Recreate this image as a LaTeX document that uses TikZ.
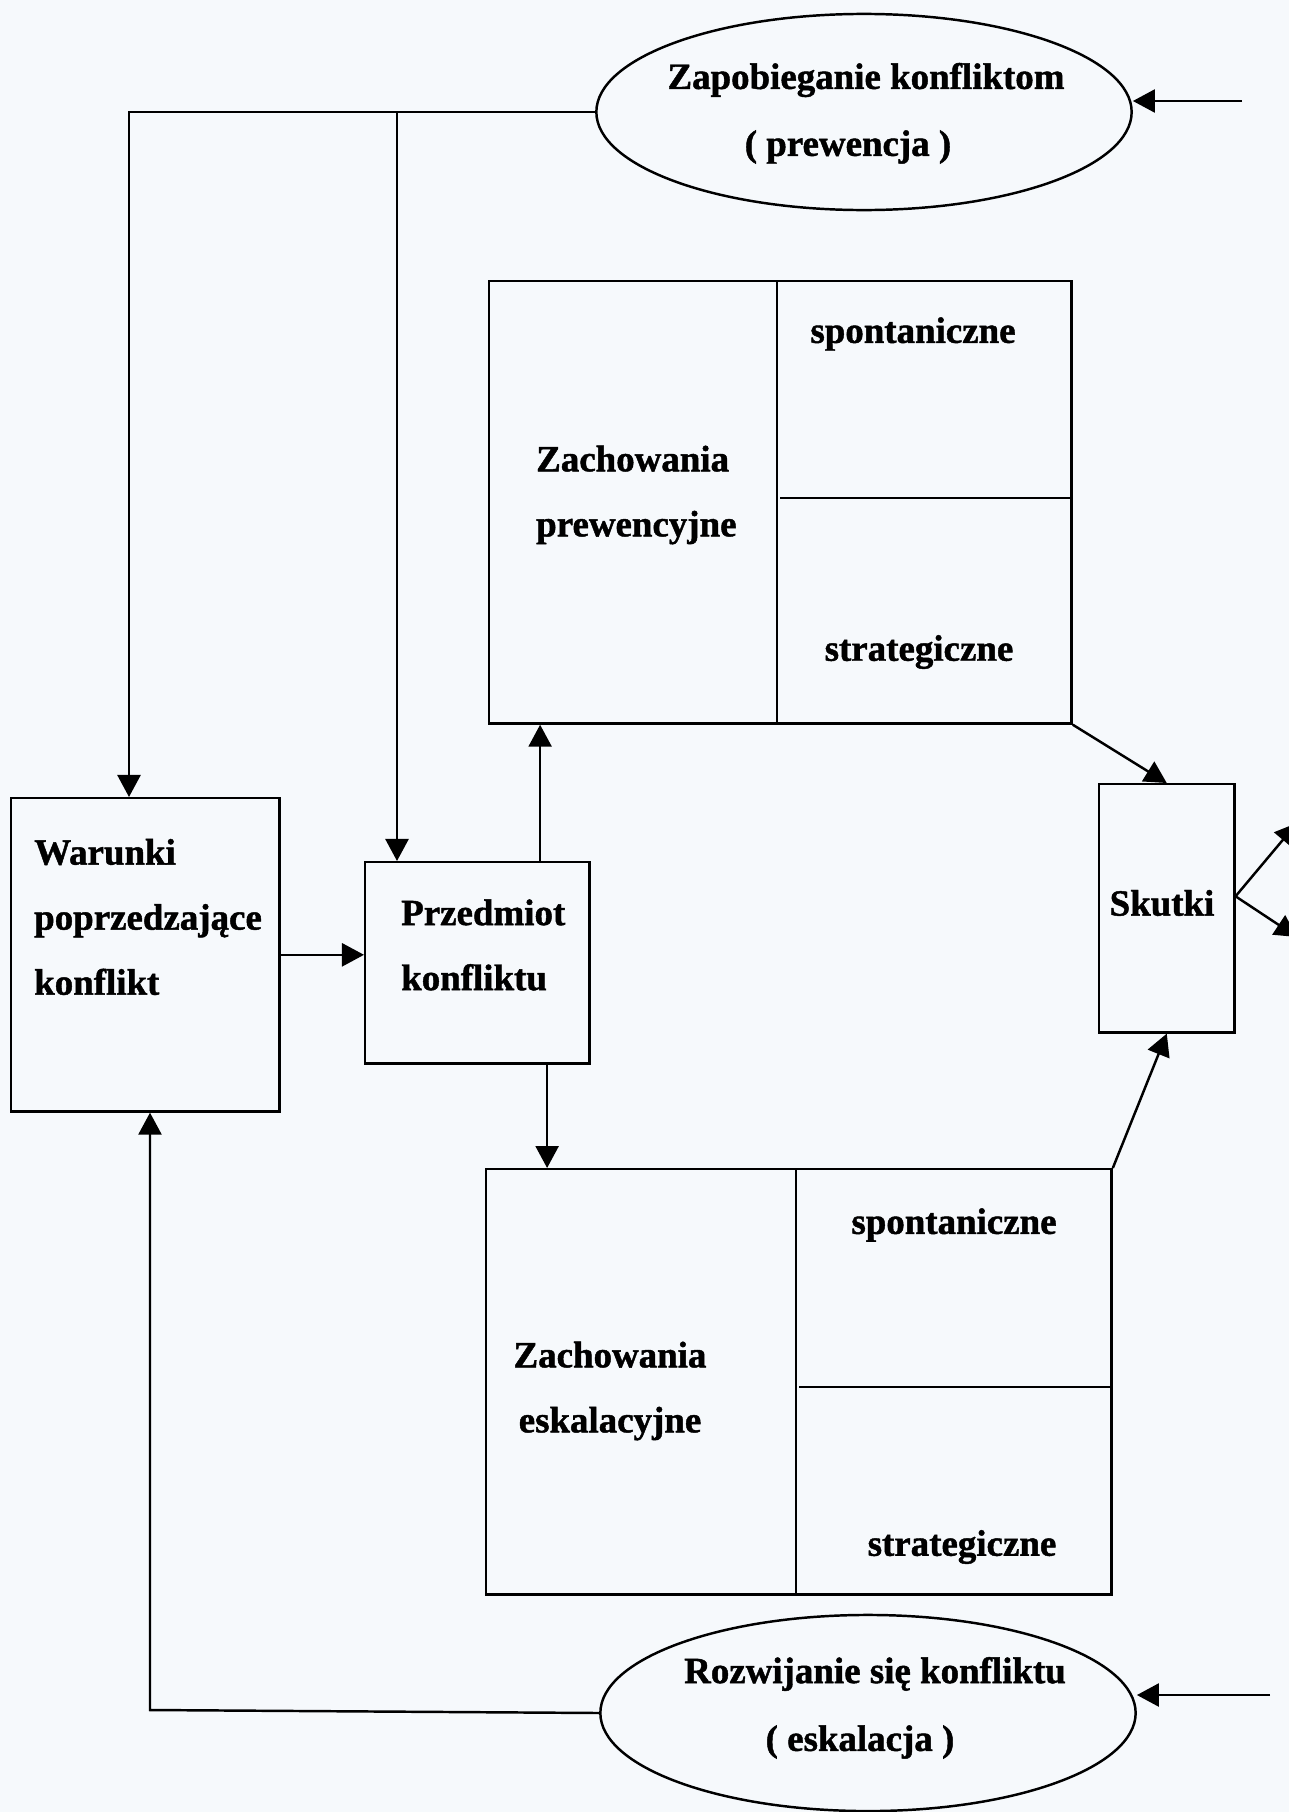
\documentclass[tikz,border=0pt]{standalone}
\usepackage{fontspec}
\setmainfont[BoldFeatures={FakeBold=1.2}]{Liberation Serif}
\usetikzlibrary{arrows.meta,shapes.geometric}
\definecolor{paper}{RGB}{246,249,252}
\tikzset{
  box/.style={draw,line width=0.7pt,inner sep=0pt,anchor=north west},
  oval/.style={draw,ellipse,line width=0.7pt,inner sep=0pt,
    minimum width=5.35cm,minimum height=1.96cm},
  lbl/.style={inner sep=0pt,font=\fontsize{10.5}{18.5}\selectfont\bfseries}
}
\begin{document}
\begin{tikzpicture}[x=0.01cm,y=-0.01cm,line width=0.7pt,
    >={Triangle[length=2.2mm,width=2.3mm]}]
  \fill[paper] (0,0) rectangle (1289,1812);
  \useasboundingbox (0,0) rectangle (1289,1812);
  % elipsy
  \node[oval] (prew) at (864,112) {};
  \node[oval] (resk) at (868,1713) {};
  \node[lbl] (tprew1) at (866,80) {Zapobieganie konfliktom};
  \node[lbl] (tprew2) at (848,147) {( prewencja )};
  \node[lbl] (tresk1) at (875,1674) {Rozwijanie się konfliktu};
  \node[lbl] (tresk2) at (860,1742) {( eskalacja )};
  % prostokaty
  \node[box,minimum width=2.68cm,minimum height=3.13cm] (warunki) at (10,797) {};
  \node[box,minimum width=2.24cm,minimum height=2.01cm] (przedmiot) at (364,861) {};
  \node[box,minimum width=5.82cm,minimum height=4.42cm] (zprew) at (488,280) {};
  \node[box,minimum width=6.25cm,minimum height=4.25cm] (zesk) at (485,1168) {};
  \node[box,minimum width=1.35cm,minimum height=2.48cm] (skutki) at (1098,783) {};
  \draw (zprew.north west) ++(289,0) -- ++(0,442);
  \draw (zprew.north east) ++(0,218) -- ++(-293,0);
  \draw (zesk.north west) ++(311,0) -- ++(0,425);
  \draw (zesk.north east) ++(0,219) -- ++(-314,0);
  % napisy
  \node[lbl,align=left,anchor=west] (twar) at (33,917) {Warunki\\poprzedzające\\konflikt};
  \node[lbl,align=left,anchor=west] (tprz) at (400,945) {Przedmiot\\konfliktu};
  \node[lbl,align=left,anchor=west] (tzp) at (535,495) {Zachowania\\prewencyjne};
  \node[lbl,align=center] (tze) at (610,1391) {Zachowania\\eskalacyjne};
  \node[lbl] (sp1) at (913,334) {spontaniczne};
  \node[lbl] (st1) at (919,652) {strategiczne};
  \node[lbl] (sp2) at (954,1225) {spontaniczne};
  \node[lbl] (st2) at (962,1547) {strategiczne};
  \node[lbl] (tsk) at (1162,903) {Skutki};
  % strzalki
  \coordinate (tl) at (129,112);
  \coordinate (tm) at (397,112);
  \coordinate (bl) at (150,1710);
  \coordinate (inp) at (1242,101);
  \coordinate (ine) at (1270,1695);
  \coordinate (pu) at ([xshift=1.76cm]przedmiot.north west);
  \coordinate (pd) at ([xshift=1.83cm]przedmiot.south west);
  \coordinate (sk) at ([yshift=0.12cm]skutki.east);
  \coordinate (out1) at (1297,823);
  \coordinate (out2) at (1297,937);
  \draw[->] (prew.west) -- (tl) -- (tl |- warunki.north);
  \draw[->] (tm) -- (tm |- przedmiot.north);
  \draw[->] (resk.west) -- (bl) -- (bl |- warunki.south);
  \draw[->] (warunki.east) -- (warunki.east -| przedmiot.west);
  \draw[->] (pu) -- (pu |- zprew.south);
  \draw[->] (pd) -- (pd |- zesk.north);
  \draw[->] (zprew.south east) -- (skutki.north);
  \draw[->] (zesk.north east) -- (skutki.south);
  \draw[->] (sk) -- (out1);
  \draw[->] (sk) -- (out2);
  \draw[->] (inp) -- (inp -| prew.east);
  \draw[->] (ine) -- (ine -| resk.east);
\end{tikzpicture}
\end{document}
